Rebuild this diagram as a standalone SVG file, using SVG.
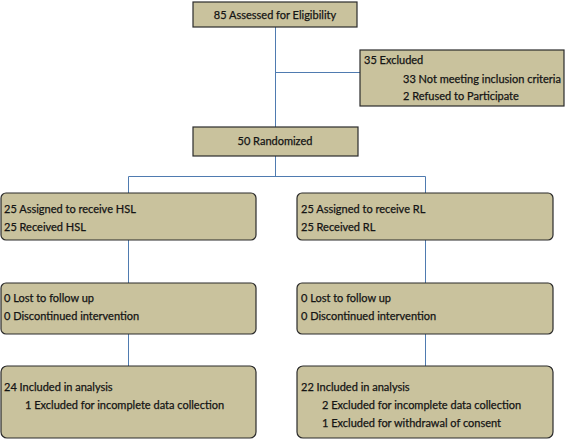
<svg xmlns="http://www.w3.org/2000/svg" width="568" height="440" viewBox="0 0 568 440">
<style>
.box{fill:#c9c29d;stroke:#2b2b2b;stroke-width:1.2}
.t{font-family:Lato,"Liberation Sans",sans-serif;font-size:11px;fill:#141414;stroke:#141414;stroke-width:0.25}
.c{text-anchor:middle}
.ln{stroke:#4f7bb0;stroke-width:1;fill:none}
</style>
<rect width="568" height="440" fill="#ffffff"/>
<g id="connectors">
<path class="ln" d="M275.5,27 V127"/>
<path class="ln" d="M275.5,72.5 H360"/>
<path class="ln" d="M275.5,156 V176.5 M128.5,176.5 H425.5 M128.5,176.5 V193 M425.5,176.5 V193"/>
<path class="ln" d="M128.5,240 V283 M425.5,240 V283"/>
<path class="ln" d="M128.5,334 V366 M425.5,334 V366"/>
</g>
<g id="n_assessed">
<rect class="box" x="193" y="2" width="164" height="25"/>
<text class="t c" x="275" y="19">85 Assessed for Eligibility</text>
</g>
<g id="n_excluded">
<rect class="box" x="360" y="50" width="204" height="56"/>
<text class="t" x="364" y="64">35 Excluded</text>
<text class="t" x="403" y="83">33 Not meeting inclusion criteria</text>
<text class="t" x="403" y="100">2 Refused to Participate</text>
</g>
<g id="n_randomized">
<rect class="box" x="193" y="127" width="165" height="29"/>
<text class="t c" x="275" y="145">50 Randomized</text>
</g>
<g id="n_hsl_alloc">
<rect class="box" x="1" y="193" width="255" height="47" rx="5"/>
<text class="t" x="4" y="213">25 Assigned to receive HSL</text>
<text class="t" x="4" y="231">25 Received HSL</text>
</g>
<g id="n_rl_alloc">
<rect class="box" x="297" y="193" width="256" height="47" rx="5"/>
<text class="t" x="301" y="213">25 Assigned to receive RL</text>
<text class="t" x="301" y="231">25 Received RL</text>
</g>
<g id="n_hsl_follow">
<rect class="box" x="1" y="283" width="255" height="51" rx="5"/>
<text class="t" x="4" y="302">0 Lost to follow up</text>
<text class="t" x="4" y="320">0 Discontinued intervention</text>
</g>
<g id="n_rl_follow">
<rect class="box" x="297" y="283" width="256" height="51" rx="5"/>
<text class="t" x="301" y="302">0 Lost to follow up</text>
<text class="t" x="301" y="320">0 Discontinued intervention</text>
</g>
<g id="n_hsl_analysis">
<rect class="box" x="1" y="366" width="255" height="72" rx="6"/>
<text class="t" x="4" y="391">24 Included in analysis</text>
<text class="t" x="25" y="409">1 Excluded for incomplete data collection</text>
</g>
<g id="n_rl_analysis">
<rect class="box" x="297" y="366" width="256" height="72" rx="6"/>
<text class="t" x="301" y="391">22 Included in analysis</text>
<text class="t" x="322" y="409">2 Excluded for incomplete data collection</text>
<text class="t" x="322" y="427">1 Excluded for withdrawal of consent</text>
</g>
</svg>
